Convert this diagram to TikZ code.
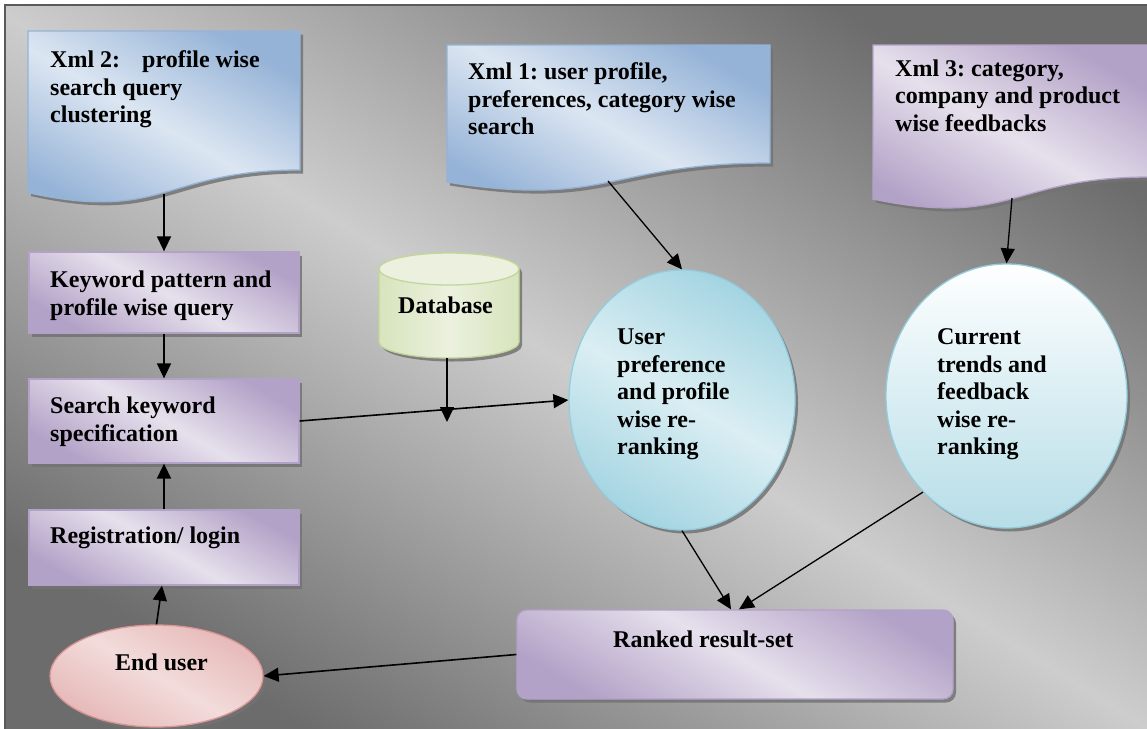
\documentclass[tikz,border=0pt]{standalone}
\usepackage{fontspec}
\setmainfont{Liberation Serif}
\frenchspacing
\usetikzlibrary{arrows.meta,shapes.geometric,shadows,calc}
\definecolor{bgdark}{HTML}{6C6C6C}
\definecolor{bglight}{HTML}{CDCDCD}
\definecolor{framegray}{HTML}{5A5A5A}
\definecolor{bluedge}{HTML}{95B3D7}
\definecolor{bluedark}{HTML}{95B3D7}
\definecolor{bluelight}{HTML}{DCE6F2}
\definecolor{purpedge}{HTML}{B3A2C7}
\definecolor{purpdark}{HTML}{B3A2C7}
\definecolor{purplight}{HTML}{E6E0EC}
\definecolor{cyanedge}{HTML}{93CDDD}
\definecolor{cyandark}{HTML}{A5D5E2}
\definecolor{cyanlight}{HTML}{DAEEF3}
\definecolor{greenedge}{HTML}{C3D69B}
\definecolor{greendark}{HTML}{D7E4BD}
\definecolor{greenlight}{HTML}{EBF1DE}
\definecolor{pinkedge}{HTML}{D99694}
\definecolor{pinkdark}{HTML}{E6B9B8}
\definecolor{pinklight}{HTML}{F2DCDB}
\begin{document}
\begin{tikzpicture}[x=1pt,y=-1pt,
  txt/.style={font=\bfseries\fontsize{24}{27.5}\selectfont, align=left, inner sep=0pt, anchor=north west},
  btxt/.style={font=\bfseries\fontsize{24}{27.5}\selectfont, inner sep=0pt, anchor=base west},
  shadowed/.style={drop shadow={shadow xshift=3pt, shadow yshift=-3.5pt, fill=black!55, opacity=0.85}},
  docblue/.style={draw=bluedge, line width=1.3pt, shading=axis, top color=bluedark, bottom color=bluedark, middle color=bluelight, shading angle=-30, shadowed},
  docpurp/.style={draw=purpedge, line width=1.3pt, shading=axis, top color=purpdark, bottom color=purpdark, middle color=purplight, shading angle=-30, shadowed},
  pbox/.style={rectangle, draw=purpedge, line width=1.3pt, shading=axis, top color=purpdark, bottom color=purpdark, middle color=purplight, shading angle=-30, shadowed, inner sep=0pt},
  cell/.style={ellipse, draw=cyanedge, line width=1.3pt, shading=axis, top color=cyandark, bottom color=cyandark, middle color=cyanlight, shading angle=-30, shadowed, inner sep=0pt},
  arr/.style={-{Triangle[length=15pt,width=14pt]}, line width=1.6pt, black},
  tarr/.style={-{Triangle[length=15pt,width=14pt]}, line width=1.3pt, black}
]
\useasboundingbox (0,0) rectangle (1147,728);
\fill[white] (0,0) rectangle (1147,728);
\begin{scope}
\clip (0,0) rectangle (1147,728);
\shade[shading=axis, top color=bgdark, bottom color=bgdark, middle color=bglight, shading angle=-32] (5,5) rectangle (1160,745);
\draw[line width=2pt, framegray] (5,745) -- (5,5) -- (1160,5);

% document shapes
\path[docblue] (28,31) -- (300,31) -- (300,170) .. controls (164,170) and (164,222.6) .. (28,192.6) -- cycle;
\path[docblue] (447,45) -- (770,45) -- (770,163) .. controls (608.5,163) and (608.5,208) .. (447,182) -- cycle;
\path[docpurp] (873,45) -- (1150,45) -- (1150,177) .. controls (1011.5,177) and (1011.5,228) .. (873,199) -- cycle;
\end{scope}
\coordinate (x2b) at (164,194);
\coordinate (x1b) at (608,181);
\coordinate (x3b) at (1012,198);

\node[txt] (x2t) at (50,50.4) {Xml 2:\hspace{22pt}profile wise\\search query\\clustering};
\node[txt] (x1t) at (468,62.4) {Xml 1: user profile,\\preferences, category wise\\search};
\node[txt] (x3t) at (895,59.4) {Xml 3: category,\\company and product\\wise feedbacks};

% boxes
\node[pbox, minimum width=270pt, minimum height=81pt] (kw) at (164,292.5) {};
\node[txt] (kwt) at (50,270.7) {Keyword pattern and\\profile wise query};
\node[pbox, minimum width=270pt, minimum height=84pt] (sk) at (164,421) {};
\node[txt] (skt) at (50,396.7) {Search keyword\\specification};
\node[pbox, minimum width=270pt, minimum height=75pt] (reg) at (164,547.5) {};
\node[btxt] (regt) at (50,543) {Registration/ login};
\node[pbox, rounded corners=10pt, minimum width=436pt, minimum height=89pt] (rk) at (735,654.5) {};
\node[btxt] (rkt) at (613,647) {Ranked result-set};

% database
\path[draw=greenedge, line width=1.3pt, shading=axis, left color=greendark, right color=greendark, middle color=greenlight, shadowed]
  (379,269) -- (379,342) arc[start angle=180, end angle=360, x radius=70pt, y radius=16pt] -- (519,269) arc[start angle=0, end angle=180, x radius=70pt, y radius=16pt] -- cycle;
\path[draw=greenedge, line width=1.3pt, fill=greenlight] (449,269) ellipse [x radius=70pt, y radius=16pt];
\node[btxt] (db) at (398,313) {Database};
\coordinate (dbb) at (447,358);
\coordinate (dbt) at (447,422);

% ellipses
\node[cell, minimum width=226pt, minimum height=260pt] (ell1) at (682,400) {};
\node[txt] (e1t) at (617,329) {User\\preference\\and profile\\wise re-\\ranking};
\node[cell, minimum width=241pt, minimum height=264pt, top color=white, bottom color=cyandark!80, middle color=cyanlight, shading angle=0] (ell2) at (1006.5,396) {};
\node[txt] (e2t) at (937,328.7) {Current\\trends and\\feedback\\wise re-\\ranking};

% end user
\begin{scope}
\clip (0,0) rectangle (1147,728);
\node[ellipse, draw=pinkedge, line width=1.3pt, shading=axis, top color=pinkdark, bottom color=pinkdark, middle color=pinklight, shading angle=-30, shadowed, minimum width=213pt, minimum height=102pt, inner sep=0pt] (eu) at (156.5,676) {};
\end{scope}
\node[btxt] (eut) at (115,670) {End user};

% connectors
\draw[arr] (x2b) -- (kw.north);
\draw[arr] (kw.south) -- (sk.north);
\draw[arr] (reg.north) -- (sk.south);
\draw[arr] (eu.north) -- ([xshift=-2pt]reg.south);
\draw[arr] (sk.east) -- (ell1.west);
\draw[arr] (dbb) -- (dbt);
\draw[tarr] (x1b) -- (ell1.north);
\draw[tarr] (x3b) -- (ell2.north);
\draw[tarr] (ell1.south) -- ([xshift=-4pt]rk.north);
\draw[tarr] (ell2.229) -- ([xshift=4pt]rk.north);
\draw[arr] (rk.west) -- (eu.east);
\end{tikzpicture}
\end{document}
